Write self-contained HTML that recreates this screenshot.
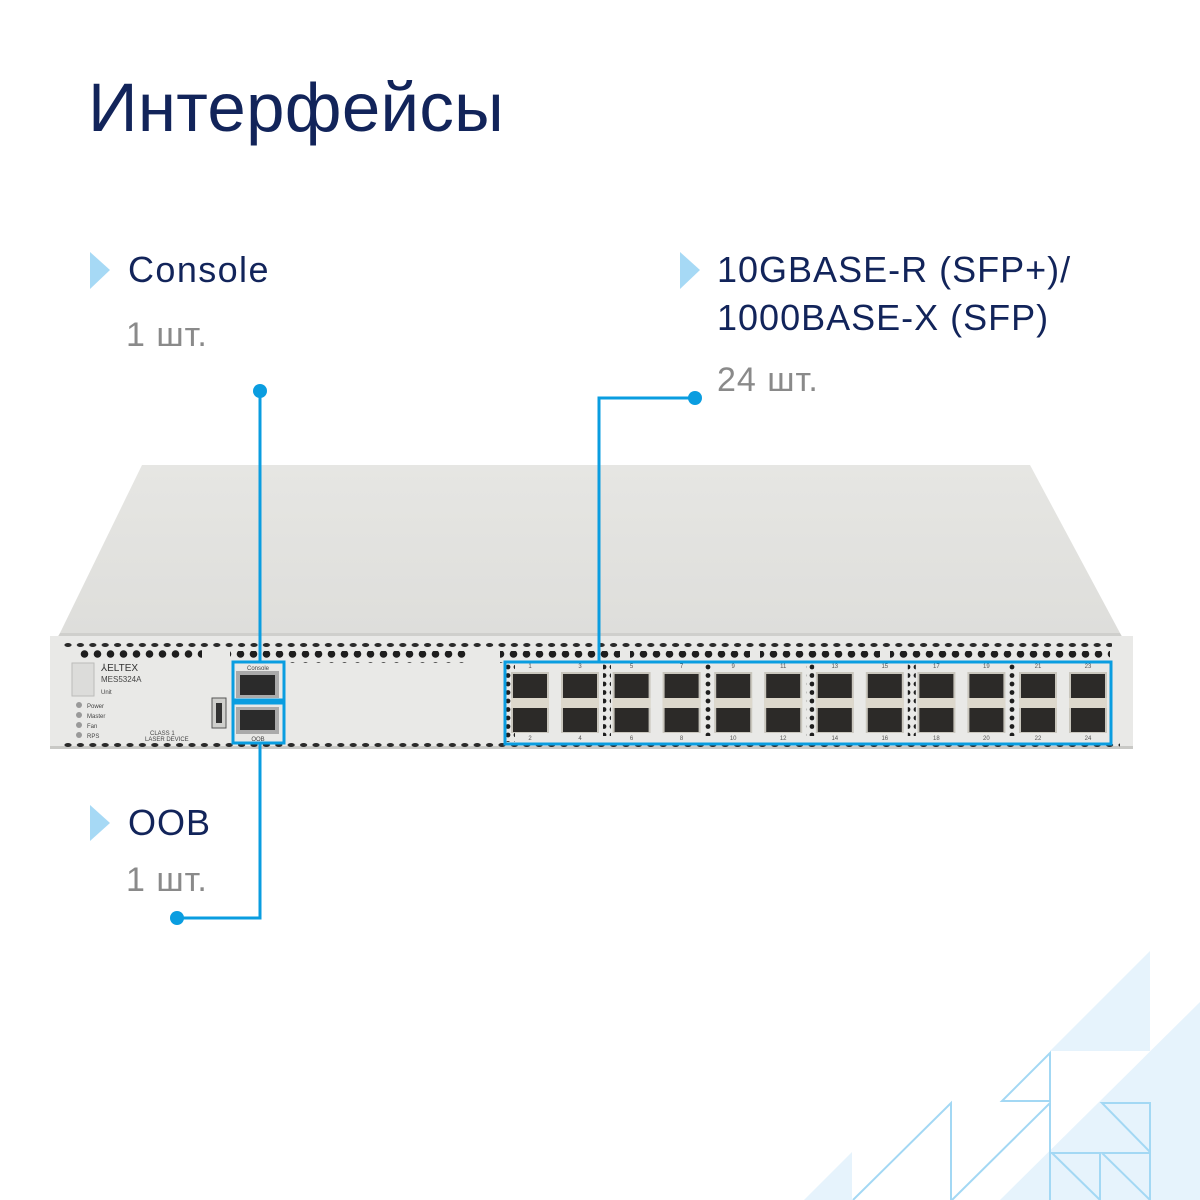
<!DOCTYPE html>
<html><head><meta charset="utf-8"><style>
html,body{margin:0;padding:0;background:#fff;}
svg{display:block}
</style></head><body>
<svg width="1200" height="1200" viewBox="0 0 1200 1200" xmlns="http://www.w3.org/2000/svg">
<defs>
<linearGradient id="top" x1="0" y1="0" x2="0" y2="1"><stop offset="0" stop-color="#e6e6e3"/><stop offset="1" stop-color="#dededb"/></linearGradient>
<pattern id="smalld" x="0" y="0" width="12.4" height="10" patternUnits="userSpaceOnUse"><ellipse cx="6" cy="5" rx="3.6" ry="2" fill="#2a2a2a"/></pattern>
<pattern id="bigd" x="0" y="0" width="13" height="12" patternUnits="userSpaceOnUse"><circle cx="6.5" cy="6" r="3.8" fill="#1e1e1e"/></pattern>
<pattern id="vd" x="0" y="0" width="8" height="8.5" patternUnits="userSpaceOnUse"><circle cx="4" cy="4" r="2.4" fill="#1e1e1e"/></pattern>
</defs>

<!-- bottom-right decoration -->
<polygon points="1050,1051 1150,951 1150,1051" fill="#e6f3fc"/>
<polygon points="1200,1002 1200,1200 1000,1200" fill="#e6f3fc"/>
<polygon points="852,1152 852,1200 804,1200" fill="#e6f3fc"/>
<g fill="none" stroke="#a3d8f4" stroke-width="2">
<polygon points="1050,1053 1050,1101 1002,1101"/>
<polyline points="853,1200 951,1103 951,1200"/>
<polyline points="952,1200 1050,1103 1050,1200"/>
<polygon points="1102,1103 1150,1103 1150,1152"/>
<polyline points="1050,1200 1050,1153 1100,1153 1100,1200"/>
<line x1="1052" y1="1153" x2="1100" y2="1200"/>
<polygon points="1102,1153 1150,1153 1150,1200"/>
</g>

<!-- texts -->
<text x="88" y="131" font-family="Liberation Sans, sans-serif" font-size="69" letter-spacing="0.3" fill="#12245a">Интерфейсы</text>
<g font-family="Liberation Sans, sans-serif" font-size="36" letter-spacing="1">
<polygon points="90,252 110,270 90,289" fill="#a6d9f5"/>
<text x="128" y="282" fill="#12245a" letter-spacing="1.4">Console</text>
<text x="126" y="346" fill="#8a8a8a" font-size="34">1 шт.</text>
<polygon points="680,252 700,270 680,289" fill="#a6d9f5"/>
<text x="717" y="282" fill="#12245a">10GBASE-R (SFP+)/</text>
<text x="717" y="330" fill="#12245a">1000BASE-X (SFP)</text>
<text x="717" y="391" fill="#8a8a8a" font-size="34">24 шт.</text>
<polygon points="90,805 110,823 90,841" fill="#a6d9f5"/>
<text x="128" y="835" fill="#12245a">OOB</text>
<text x="126" y="891" fill="#8a8a8a" font-size="34">1 шт.</text>
</g>

<!-- switch chassis -->
<polygon points="142,465 1030,465 1120,633 60,633" fill="url(#top)"/>
<polygon points="60,633 1120,633 1124,640 56,640" fill="#cfcfcc"/>
<rect x="50" y="636" width="1083" height="112" fill="#e9e9e7"/>
<rect x="50" y="746" width="1083" height="3" fill="#c9c9c6"/>
<!-- vents -->
<rect x="62" y="641" width="1050" height="10" fill="url(#smalld)"/>
<rect x="78" y="650" width="124" height="12" fill="url(#bigd)"/>
<rect x="230" y="651" width="120" height="12" fill="url(#bigd)"/>
<rect x="350" y="651" width="120" height="12" fill="url(#bigd)"/>
<rect x="500" y="651" width="120" height="12" fill="url(#bigd)"/>
<rect x="630" y="651" width="120" height="12" fill="url(#bigd)"/>
<rect x="760" y="651" width="120" height="12" fill="url(#bigd)"/>
<rect x="890" y="651" width="120" height="12" fill="url(#bigd)"/>
<rect x="1010" y="651" width="100" height="12" fill="url(#bigd)"/>
<rect x="60" y="741" width="1060" height="6" fill="url(#smalld)"/>
<!-- left panel -->
<rect x="72" y="663" width="22" height="33" fill="#dcdcda" stroke="#bcbcba"/>
<text x="101" y="671" font-family="Liberation Sans, sans-serif" font-size="10" fill="#333">⅄ELTEX</text>
<text x="101" y="682" font-family="Liberation Sans, sans-serif" font-size="8" fill="#444">MES5324A</text>
<text x="101" y="694" font-family="Liberation Sans, sans-serif" font-size="6" fill="#444">Unit</text>
<g fill="#999"><circle cx="79" cy="705" r="3"/><circle cx="79" cy="715" r="3"/><circle cx="79" cy="725" r="3"/><circle cx="79" cy="735" r="3"/></g>
<g font-family="Liberation Sans, sans-serif" font-size="6" fill="#444">
<text x="87" y="708">Power</text><text x="87" y="718">Master</text><text x="87" y="728">Fan</text><text x="87" y="738">RPS</text>
<text x="150" y="735">CLASS 1</text><text x="145" y="741">LASER DEVICE</text></g>
<rect x="212" y="698" width="14" height="30" fill="#cfcfcc" stroke="#555"/>
<rect x="216" y="703" width="6" height="20" fill="#333"/>
<!-- RJ45 ports -->
<rect x="236" y="671" width="43" height="27" fill="#aaa"/><rect x="240" y="675" width="35" height="20" fill="#2b2b2b"/>
<rect x="236" y="707" width="43" height="27" fill="#aaa"/><rect x="240" y="710" width="35" height="20" fill="#2b2b2b"/>
<text x="258" y="670" text-anchor="middle" font-family="Liberation Sans, sans-serif" font-size="6" fill="#444">Console</text>
<text x="258" y="741" text-anchor="middle" font-family="Liberation Sans, sans-serif" font-size="6" fill="#444">OOB</text>
<!-- SFP area -->
<rect x="503" y="662" width="12" height="80" fill="url(#vd)"/>
<g id="sfps">
<g transform="translate(0,0)"><rect x="511" y="672" width="38" height="61" fill="#c9c6bd"/><rect x="513" y="674" width="34" height="24" fill="#2c2a28"/><rect x="513" y="708" width="34" height="24" fill="#2c2a28"/><rect x="511" y="698" width="38" height="10" fill="#ddd8cc"/></g>
</g>
<g font-family="Liberation Sans, sans-serif" font-size="6" fill="#555" text-anchor="middle">
<text x="530" y="668">1</text><text x="530" y="740">2</text>
</g>
<script>
(function(){
var s=document.getElementById('sfps'),ns='http://www.w3.org/2000/svg';
var base=s.firstElementChild;
for(var k=0;k<12;k++){
 var p=Math.floor(k/2), x=512+101.6*p+(k%2)*50;
 if(k>0){var c=base.cloneNode(true);c.setAttribute('transform','translate('+(x-512)+',0)');s.appendChild(c);}
 var t1=document.createElementNS(ns,'text');t1.setAttribute('x',x+18);t1.setAttribute('y',668);t1.setAttribute('font-size','6');t1.setAttribute('fill','#555');t1.setAttribute('text-anchor','middle');t1.setAttribute('font-family','Liberation Sans, sans-serif');t1.textContent=2*k+1;if(k>0)s.appendChild(t1);
 var t2=t1.cloneNode();t2.setAttribute('y',740);t2.textContent=2*k+2;if(k>0)s.appendChild(t2);
 if(k%2==1&&k<11){var r=document.createElementNS(ns,'rect');r.setAttribute('x',x+41);r.setAttribute('y',664);r.setAttribute('width',8);r.setAttribute('height',72);r.setAttribute('fill','url(#vd)');s.appendChild(r);}
}
})();
</script>

<!-- blue callouts -->
<g stroke="#0a9de0" stroke-width="3" fill="none">
<rect x="233" y="662" width="51" height="38"/>
<rect x="233" y="703" width="51" height="40"/>
<rect x="505" y="662" width="606" height="82"/>
<line x1="260" y1="391" x2="260" y2="662"/>
<polyline points="260,743 260,918 177,918"/>
<polyline points="695,398 599,398 599,662"/>
</g>
<g fill="#0a9de0"><circle cx="260" cy="391" r="7"/><circle cx="177" cy="918" r="7"/><circle cx="695" cy="398" r="7"/></g>
</svg>
</body></html>
